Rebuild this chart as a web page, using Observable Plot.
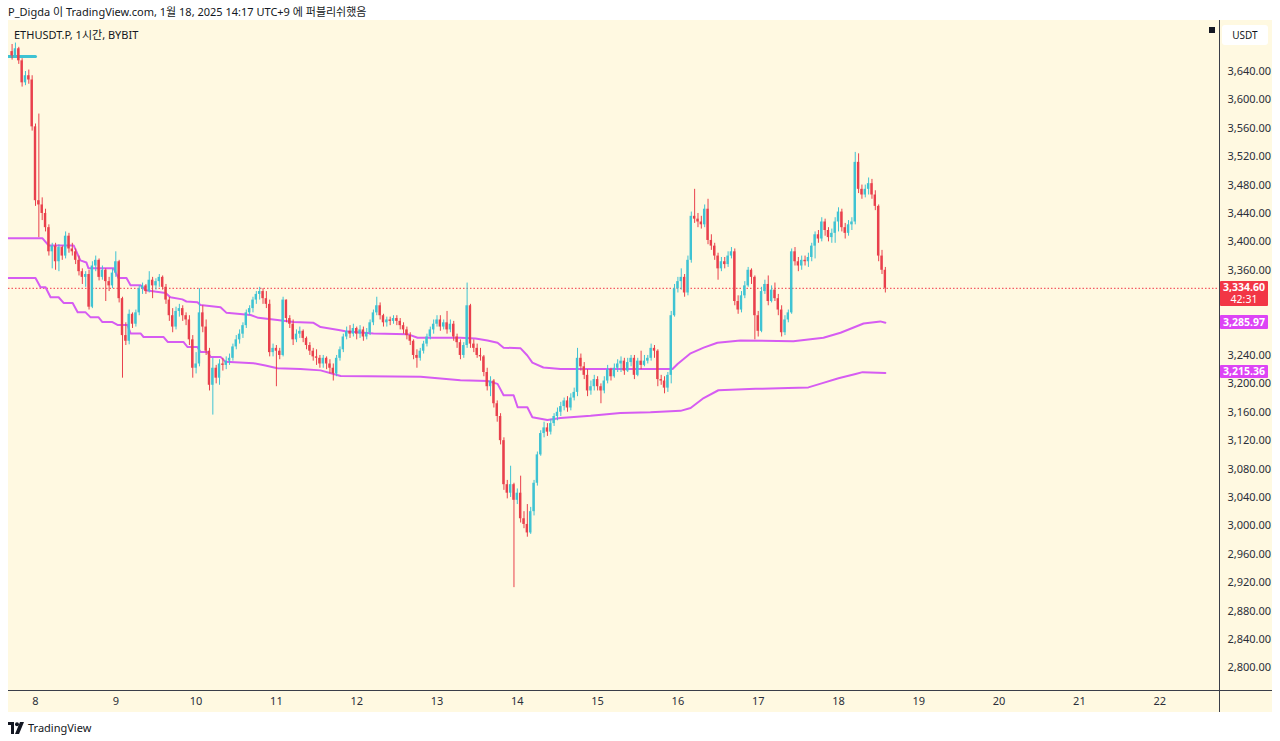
<!DOCTYPE html>
<html><head><meta charset="utf-8">
<script src="https://cdn.jsdelivr.net/npm/d3@7"></script>
<script src="https://cdn.jsdelivr.net/npm/@observablehq/plot@0.6"></script>
<style>
html,body{margin:0;padding:0;background:#ffffff;}
body{width:1280px;height:741px;overflow:hidden;position:relative;font-family:"Noto Sans","Noto Sans CJK KR",sans-serif;color:#131722;}
.abs{position:absolute;}
#hdr{left:8px;top:3px;font-size:11px;white-space:nowrap;}
#panel{left:8px;top:20px;width:1264px;height:692px;background:#fff9e1;}
#chart{left:8px;top:20px;}
#title{left:14px;top:26px;font-size:11px;white-space:nowrap;}
#usdt{left:1222px;top:25px;width:46px;height:20px;background:#fff;border-radius:3px;font-size:10px;line-height:20px;text-align:center;color:#131722;}
#sq{left:1209px;top:27px;width:6px;height:6px;background:#131722;}
#hline{left:8px;top:690px;width:1264px;height:1px;background:#3a3e48;}
#vline{left:1219px;top:20px;width:1px;height:692px;background:#3a3e48;}
.lbl{position:absolute;left:1220px;width:48px;color:#fff;font-size:10.5px;font-weight:bold;text-align:center;border-radius:1px;}
#foot{left:8px;top:720px;font-size:11px;white-space:nowrap;display:flex;align-items:center;gap:4px;}
</style></head><body>
<div id="hdr" class="abs">P_Digda 이 TradingView.com, 1월 18, 2025 14:17 UTC+9 에 퍼블리쉬했음</div>
<div id="panel" class="abs"></div>
<div id="chart" class="abs"></div>
<div id="title" class="abs">ETHUSDT.P, 1시간, BYBIT</div>
<div id="sq" class="abs"></div>
<div id="usdt" class="abs">USDT</div>
<div id="hline" class="abs"></div>
<div id="vline" class="abs"></div>
<div id="labels"></div>
<div id="foot" class="abs"><svg width="16" height="12" viewBox="0 0 16 12"><path d="M0 0h6v12H3V3H0z" fill="#131722"/><circle cx="9" cy="2.2" r="2" fill="#131722"/><path d="M12 0h4l-5 12H7z" fill="#131722"/></svg><span>TradingView</span></div>
<script>
// ---- data (hourly candles, ETHUSDT.P 1h, starting Jan 7 17:00, hour offset relative to Jan 8 00:00) ----
const startHour = -7;
const firstOpen = 3668;
const closes = [3662,3672,3655,3624,3634,3628,3562,
3458,3452,3440,3420,3386,3394,3372,3392,3380,3408,3390,3386,3374,3358,3350,3354,3308,3366,3374,3350,3360,3344,3338,3356,
3372,3320,3268,3260,3298,3284,3300,3334,3338,3330,3346,3338,3344,3350,3336,3318,3296,3280,3302,3306,3296,3290,3262,3222,
3228,3300,3280,3246,3198,3222,3208,3228,3226,3232,3236,3252,3262,3270,3282,3300,3306,3318,3326,3330,3320,3312,3244,3250,
3246,3240,3318,3292,3284,3262,3270,3274,3264,3254,3246,3238,3236,3228,3236,3228,3222,3214,3236,3248,3266,3274,3270,3278,
3270,3276,3266,3272,3286,3300,3310,3296,3286,3290,3288,3292,3288,3282,3276,3268,3260,3240,3236,3246,3256,3266,3276,3284,
3290,3280,3286,3276,3284,3266,3258,3240,3254,3310,3256,3250,3240,3238,3216,3196,3204,3172,3154,3120,3058,3046,3058,3036,
3046,3010,3002,2990,3020,3060,3100,3130,3138,3132,3144,3154,3160,3168,3176,3166,3180,3188,3236,3224,3212,3190,3196,3206,
3196,3190,3204,3220,3210,3222,3228,3232,3218,3230,3236,3212,3232,3226,3232,3236,3250,3246,3206,3204,3194,3212,3296,3334,
3344,3350,3328,3374,3436,3432,3428,3424,3446,3402,3394,3380,3362,3372,3368,3380,3386,3316,3304,3324,3338,3360,3350,3296,
3274,3330,3340,3316,3332,3320,3304,3272,3290,3300,3386,3372,3366,3374,3372,3378,3394,3410,3404,3428,3416,3406,3412,3428,
3442,3420,3412,3424,3428,3512,3474,3466,3474,3482,3466,3450,3380,3360,3334.6];
const highs = [3678,3680,3674,3658,3640,3642,3634,
3566,3580,3462,3446,3424,3398,3398,3396,3394,3414,3412,3398,3390,3380,3362,3358,3360,3372,3380,3376,3366,3362,3350,3362,
3386,3374,3322,3286,3304,3300,3304,3338,3342,3340,3358,3350,3348,3354,3352,3340,3322,3306,3308,3312,3310,3300,3296,3268,
3244,3334,3310,3290,3250,3236,3226,3234,3236,3238,3242,3256,3268,3276,3286,3304,3310,3322,3330,3336,3334,3330,3318,3256,
3254,3250,3322,3318,3296,3290,3276,3280,3276,3266,3258,3250,3248,3240,3240,3238,3234,3228,3240,3252,3270,3280,3282,3284,
3280,3282,3280,3278,3290,3304,3322,3314,3298,3294,3294,3296,3296,3292,3286,3280,3272,3262,3248,3250,3260,3270,3280,3290,
3296,3296,3290,3302,3290,3288,3270,3262,3258,3342,3312,3262,3256,3250,3240,3222,3210,3206,3176,3158,3124,3064,3084,3060,
3052,3070,3020,3030,3026,3064,3104,3134,3146,3144,3150,3158,3166,3174,3180,3182,3186,3194,3250,3242,3230,3220,3204,3212,
3210,3200,3210,3226,3222,3228,3234,3238,3236,3236,3240,3240,3236,3246,3240,3240,3256,3254,3248,3212,3210,3216,3302,3340,
3350,3362,3354,3380,3442,3474,3440,3436,3452,3460,3410,3398,3384,3378,3378,3386,3392,3390,3324,3330,3344,3364,3362,3352,
3302,3336,3346,3352,3338,3342,3326,3310,3296,3304,3390,3392,3378,3380,3380,3384,3398,3414,3416,3434,3432,3420,3418,3434,
3448,3446,3426,3430,3434,3526,3524,3480,3480,3490,3488,3472,3452,3388,3364];
const lows = [3656,3660,3650,3618,3620,3622,3556,
3450,3406,3430,3414,3380,3362,3360,3358,3374,3376,3384,3380,3368,3352,3340,3336,3304,3306,3358,3345,3346,3316,3330,3334,
3350,3314,3208,3254,3255,3278,3280,3296,3326,3326,3328,3320,3332,3336,3332,3312,3288,3272,3276,3294,3288,3282,3254,3208,
3214,3224,3272,3240,3190,3156,3200,3198,3218,3220,3226,3232,3248,3256,3264,3278,3296,3300,3312,3318,3312,3306,3238,3238,
3196,3234,3238,3286,3278,3254,3258,3264,3258,3248,3240,3232,3226,3222,3222,3220,3214,3204,3210,3232,3244,3262,3264,3266,
3262,3264,3260,3262,3268,3282,3296,3290,3280,3280,3282,3284,3282,3276,3270,3262,3254,3234,3222,3232,3242,3252,3262,3270,
3280,3274,3276,3270,3272,3260,3250,3234,3236,3250,3250,3244,3236,3232,3210,3190,3182,3166,3146,3114,3050,3038,3040,2913,
3030,3004,2996,2984,2988,3014,3056,3098,3124,3126,3128,3140,3148,3154,3162,3160,3162,3176,3182,3218,3206,3182,3184,3190,
3190,3172,3186,3200,3204,3208,3216,3216,3212,3216,3224,3206,3210,3220,3224,3228,3232,3236,3196,3198,3186,3188,3200,3294,
3328,3332,3322,3324,3370,3426,3420,3418,3420,3396,3388,3374,3346,3358,3362,3364,3376,3310,3298,3300,3320,3336,3340,3262,
3266,3272,3326,3310,3314,3316,3296,3266,3268,3286,3298,3366,3358,3360,3366,3364,3372,3376,3398,3400,3408,3400,3398,3398,
3414,3414,3404,3408,3416,3424,3468,3460,3462,3466,3460,3444,3372,3354,3328];
// magenta stepped lines: [hour offset, price]
const upperLine = [[-8.1,3405],[2.1,3405],[3.9,3395],[11.4,3395],[13.4,3374],[15.2,3371],[15.8,3363],[23.3,3363],[24.8,3349],[27.2,3349],[28.4,3339],[31.4,3339],[32.9,3332],[38.9,3328],[40.3,3322],[43.9,3319],[45.1,3316],[48.4,3315],[49.3,3311],[55.3,3308],[57.1,3300],[64.3,3297],[66.6,3293],[72.3,3290],[77.1,3287],[83.1,3286],[85.2,3280],[90.6,3276],[92.6,3274],[101,3271],[111.2,3270],[114.2,3265],[127,3265],[131.5,3264],[135.1,3261],[138.1,3258],[139.9,3251],[145,3250],[147,3240],[148.5,3230],[151.8,3223],[156.9,3221],[190.4,3221],[191.9,3228],[195.8,3243],[199.7,3251],[203.8,3258],[210.7,3261],[226.5,3260],[235.5,3265],[240.6,3272],[247.5,3285],[252.5,3288],[254,3285.97]];
const lowerLine = [[-8.1,3349],[0,3349],[1.5,3336],[3,3336],[4.5,3322],[6.9,3322],[8.4,3314],[11.1,3314],[12.6,3301],[14.9,3301],[16.4,3294],[18.8,3294],[20,3287],[23,3287],[24.5,3283],[27.5,3283],[28.4,3271],[31.4,3271],[32.3,3266],[38.3,3266],[39.5,3259],[44.2,3259],[45.4,3252],[48.4,3252],[49.3,3245],[51.4,3245],[52.3,3238],[55.3,3238],[56.8,3231],[65.2,3229],[68.7,3226],[72.3,3222],[79.2,3221],[85.2,3219],[91.2,3211],[115.1,3210],[127,3205],[135.1,3204],[138.1,3200],[139.9,3184],[142.9,3184],[144.1,3167],[147,3167],[148.5,3153],[153,3149],[156.9,3152],[165.9,3155],[174.8,3159],[183.8,3160],[192.8,3162],[195.8,3166],[199.7,3180],[204.1,3191],[215.2,3193],[225,3194],[231,3195],[235.2,3201],[240,3208],[245.1,3214],[247.2,3216.5],[254,3215.36]];
const cyanLevel = [[-9,3661],[0,3661]];
const lastPrice = 3334.6;
const countdown = "42:31";
const upperLast = 3285.97, lowerLast = 3215.36;
const yTicks = [3640,3600,3560,3520,3480,3440,3400,3360,3240,3200,3160,3120,3080,3040,3000,2960,2920,2880,2840,2800];
const dayLabels = [8,9,10,11,12,13,14,15,16,17,18,19,20,21,22];

// ---- build ----
const UP = "#3fc3d3", DOWN = "#e9404c", MAG = "#d65cf2";
const candles = closes.map((c, i) => {
  const o = i === 0 ? firstOpen : closes[i - 1];
  return {t: startHour + i, o, c, h: Math.max(highs[i], o, c), l: Math.min(lows[i], o, c)};
});
const col = d => d.c >= d.o ? UP : DOWN;
const toObj = arr => arr.map(([t, v]) => ({t, v}));

const plot = Plot.plot({
  width: 1264, height: 692,
  marginLeft: 0, marginRight: 53, marginTop: 0, marginBottom: 22,
  x: {domain: [-8.07, 353.87], axis: null, label: null},
  y: {domain: [2768.1, 3711.8], axis: null, label: null},
  style: {background: "transparent", fontFamily: "'Noto Sans', sans-serif", fontSize: "11px", color: "#131722"},
  marks: [
    Plot.ruleY([lastPrice], {stroke: "#f23645", strokeWidth: 1, strokeDasharray: "1.5,2", clip: true}),
    Plot.line(toObj(upperLine), {x: "t", y: "v", stroke: MAG, strokeWidth: 2, clip: true}),
    Plot.line(toObj(lowerLine), {x: "t", y: "v", stroke: MAG, strokeWidth: 2, clip: true}),
    Plot.line(toObj(cyanLevel), {x: "t", y: "v", stroke: UP, strokeWidth: 3, clip: true}),
    Plot.ruleX(candles, {x: "t", y1: "l", y2: "h", stroke: col, strokeWidth: 1, clip: true}),
    Plot.rect(candles, {x1: d => d.t - 0.36, x2: d => d.t + 0.36, y1: "o", y2: "c", fill: col, clip: true}),
    Plot.axisY(yTicks, {anchor: "right", label: null, tickSize: 0, tickPadding: 8, textAnchor: "start", tickFormat: d3.format(",.2f"), fill: "#2a2e39", fontSize: 11}),
    Plot.axisX(dayLabels.map(d => (d - 8) * 24), {anchor: "bottom", label: null, tickSize: 0, tickPadding: 7, tickFormat: h => String(8 + h / 24), fill: "#2a2e39", fontSize: 11})
  ]
});
document.getElementById("chart").appendChild(plot);

const ys = plot.scale("y");
const lbl = document.getElementById("labels");
function addLabel(v, html, bg, top, h, lh) {
  const d = document.createElement("div");
  d.className = "lbl";
  d.style.top = (20 + ys.apply(v) + top) + "px";
  d.style.height = h + "px";
  d.style.lineHeight = lh + "px";
  d.style.background = bg;
  d.innerHTML = html;
  lbl.appendChild(d);
}
const fmt = d3.format(",.2f");
addLabel(lastPrice, fmt(lastPrice) + "<br><span style='font-weight:normal'>" + countdown + "</span>", "#f23645", -7, 25, 12);
addLabel(upperLast, fmt(upperLast), "#dd44f5", -7, 14, 14);
addLabel(lowerLast, fmt(lowerLast), "#dd44f5", -7, 13, 13);
</script>
</body></html>
